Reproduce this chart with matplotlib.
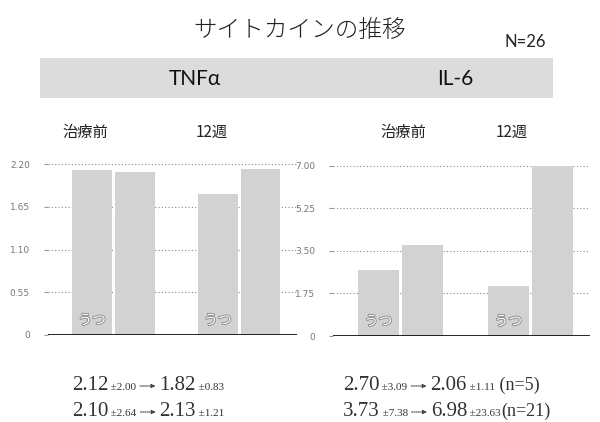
import matplotlib
matplotlib.use("Agg")
import matplotlib.pyplot as plt
import matplotlib.patheffects as pe
from matplotlib.patches import Rectangle, FancyArrowPatch

plt.rcParams['font.family'] = ['Noto Sans CJK JP', 'DejaVu Sans']

# cytokine values: depressed group (n=5) and others (n=21), before / 12 weeks
groups = ['治療前', '12週']
tnf_utsu = [2.12, 1.82]
tnf_other = [2.10, 2.13]
il6_utsu = [2.70, 2.06]
il6_other = [3.73, 6.98]
tnf_ticks = [0, 0.55, 1.10, 1.65, 2.20]
tnf_ticklabels = ['0', '0.55', '1.10', '1.65', '2.20']
il6_ticks = [0, 1.75, 3.50, 5.25, 7.00]
il6_ticklabels = ['0', '1.75', '3.50', '5.25', '7.00']

# mean ± sd summary rows under each panel
tnf_rows = [('2.12', '±2.00', '1.82', '±0.83', ''),
            ('2.10', '±2.64', '2.13', '±1.21', '')]
il6_rows = [('2.70', '±3.09', '2.06', '±1.11', ' (n=5)'),
            ('3.73', '±7.38', '6.98', '±23.63', '(n=21)')]

W, H = 600, 422
fig = plt.figure(figsize=(W / 100, H / 100), dpi=100)
fig.patch.set_facecolor('white')


def fx(px):
    return px / W


def fy(py):
    return 1 - py / H


bar_color = '#d2d2d2'
bar_w = 0.315
off = 0.17


def panel(rect, utsu, other, ticks, ticklabels, ymax):
    ax = fig.add_axes(rect)
    x = range(len(groups))
    ax.bar([i - off for i in x], utsu, width=bar_w, color=bar_color, zorder=2)
    ax.bar([i + off for i in x], other, width=bar_w, color=bar_color, zorder=2)
    for i in x:
        ax.text(i - off, ymax * 0.085, 'うつ', ha='center', va='center',
                fontsize=10, color='white', zorder=3,
                path_effects=[pe.withStroke(linewidth=1.3, foreground='#8a8a8a')])
    ax.set_xlim(-0.52, 1.46)
    ax.set_ylim(0, ymax)
    ax.set_yticks(ticks)
    ax.set_yticklabels(ticklabels, fontsize=6.5, color='#777777',
                       family=['DejaVu Sans'])
    ax.tick_params(axis='y', length=3, color='#999999', pad=10)
    ax.set_xticks([])
    for t in ticks[1:]:
        ax.axhline(t, color='#888888', lw=0.8, ls=(0, (1, 2)), zorder=1)
    ax.axhline(0, color='black', lw=1.2, zorder=4)
    for s in ax.spines.values():
        s.set_visible(False)
    return ax


panel([fx(48), fy(335), fx(297 - 48), (335 - 164) / H],
      tnf_utsu, tnf_other, tnf_ticks, tnf_ticklabels, 2.20)
panel([fx(333), fy(336), fx(590 - 333), (336 - 165.7) / H],
      il6_utsu, il6_other, il6_ticks, il6_ticklabels, 7.00)

# title and header band
fig.text(fx(300), fy(30), 'サイトカインの推移', ha='center', va='center',
         fontsize=17, fontweight='light', color='#222222')
fig.text(fx(525), fy(42), 'N=26', ha='center', va='center', fontsize=12,
         family=['Lato'], color='#222222')
fig.patches.append(Rectangle((fx(40), fy(98)), fx(553 - 40), (98 - 58) / H,
                             transform=fig.transFigure, facecolor='#dcdcdc',
                             edgecolor='none', zorder=0))
fig.text(fx(195), fy(79), 'TNFα', ha='center', va='center', fontsize=15,
         family=['Lato'], color='#111111')
fig.text(fx(455), fy(79), 'IL-6', ha='center', va='center', fontsize=15,
         family=['Lato'], color='#111111')

for xpx, lab in zip([85, 212, 403, 512], groups * 2):
    fig.text(fx(xpx), fy(132), lab, ha='center', va='center', fontsize=11,
             color='#222222')

# summary rows, pieces chained left to right
renderer = fig.canvas.get_renderer()
serif = ['Liberation Serif', 'DejaVu Serif']


def chain(x0, ypx, row):
    a, sa, b, sb, n = row
    x = fx(x0)
    y = fy(ypx)
    parts = [(a, 15), (' ' + sa, 8), None, (b, 15), (' ' + sb, 8), (n, 13)]
    for p in parts:
        if p is None:
            fig.patches.append(FancyArrowPatch(
                (x + fx(1), y + 4 / H), (x + fx(22), y + 4 / H),
                transform=fig.transFigure, arrowstyle='-|>', mutation_scale=6,
                lw=0.8, ls=(0, (1, 1)), color='#444444'))
            x += fx(23)
            continue
        txt, size = p
        if not txt:
            continue
        t = fig.text(x, y, txt, ha='left', va='baseline', fontsize=size,
                     family=serif, color='#333333')
        bb = t.get_window_extent(renderer)
        x += bb.width / W


for i, ypx in enumerate([390, 416]):
    chain(72, ypx, tnf_rows[i])
    chain(343, ypx, il6_rows[i])

fig.savefig('out.png', dpi=100)
